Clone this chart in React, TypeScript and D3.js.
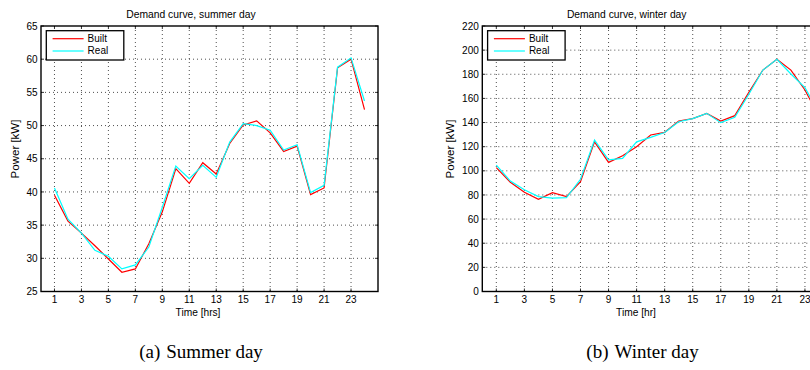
import * as d3 from 'd3';

// hours of the day (x categories)
const hours = [1, 2, 3, 4, 5, 6, 7, 8, 9, 10, 11, 12, 13, 14, 15, 16, 17, 18, 19, 20, 21, 22, 23, 24];
const xTicks = [1, 3, 5, 7, 9, 11, 13, 15, 17, 19, 21, 23];

// summer day, kW
const summerBuilt = [39.5, 35.6, 33.8, 31.9, 29.9, 27.9, 28.4, 32.2, 37.0, 43.5, 41.3, 44.4, 42.7, 47.3, 50.1, 50.7, 48.9, 46.1, 46.9, 39.6, 40.6, 58.7, 60.0, 52.4];
const summerReal = [40.6, 35.9, 33.8, 31.2, 30.3, 28.4, 29.0, 31.7, 37.7, 43.9, 42.0, 44.0, 42.2, 47.5, 50.3, 50.0, 49.3, 46.3, 47.1, 39.9, 41.0, 58.8, 60.2, 53.7];
const summerYTicks = [25, 30, 35, 40, 45, 50, 55, 60, 65];

// winter day, kW
const winterBuilt = [102.6, 90.5, 82.2, 76.4, 81.9, 78.6, 91.0, 124.0, 107.0, 112.5, 120.0, 129.7, 131.9, 141.3, 143.2, 147.6, 141.3, 145.7, 165.0, 183.5, 192.4, 183.5, 167.0, 145.0];
const winterReal = [104.8, 91.5, 84.3, 78.6, 77.3, 77.8, 93.0, 125.5, 109.0, 110.3, 124.0, 127.7, 131.7, 140.7, 143.2, 147.6, 139.9, 144.3, 163.4, 183.5, 192.4, 180.2, 169.0, 148.0];
const winterYTicks = [0, 20, 40, 60, 80, 100, 120, 140, 160, 180, 200, 220];

const sans = '"Liberation Sans", Arial, Helvetica, sans-serif';
const serif = '"Liberation Serif", "Times New Roman", serif';

type PanelProps = {
  built: number[];
  real: number[];
  yTicks: number[];
  left: number;
  right: number;
  title: string;
  titleX: number;
  xLabel: string;
  xLabelX: number;
  yLabelX: number;
};

const top = 26;
const bottom = 291.5;

function Panel(p: PanelProps) {
  const x = d3.scaleLinear().domain([0, 25]).range([p.left, p.right]);
  const y = d3.scaleLinear().domain(d3.extent(p.yTicks) as [number, number]).range([bottom, top]);
  const line = d3.line<number>().x((_, i) => x(hours[i])).y((d) => y(d));
  const tick = 3;
  const clipId = `clip-${p.left}`;

  return (
    <g>
      <defs>
        <clipPath id={clipId}>
          <rect x={p.left} y={top} width={p.right - p.left} height={bottom - top} />
        </clipPath>
      </defs>
      <rect x={p.left} y={top} width={p.right - p.left} height={bottom - top} fill="#fff" />

      {/* dotted grid */}
      {xTicks.map((t) => (
        <line key={`gx${t}`} x1={x(t)} x2={x(t)} y1={top} y2={bottom} stroke="#222" strokeWidth={0.8} strokeDasharray="1,3" />
      ))}
      {p.yTicks.slice(1, -1).map((t) => (
        <line key={`gy${t}`} x1={p.left} x2={p.right} y1={y(t)} y2={y(t)} stroke="#222" strokeWidth={0.8} strokeDasharray="1,3" />
      ))}

      {/* inward ticks */}
      {xTicks.map((t) => (
        <g key={`tx${t}`} stroke="#000" strokeWidth={0.8}>
          <line x1={x(t)} x2={x(t)} y1={bottom} y2={bottom - tick} />
          <line x1={x(t)} x2={x(t)} y1={top} y2={top + tick} />
        </g>
      ))}
      {p.yTicks.map((t) => (
        <g key={`ty${t}`} stroke="#000" strokeWidth={0.8}>
          <line x1={p.left} x2={p.left + tick} y1={y(t)} y2={y(t)} />
          <line x1={p.right} x2={p.right - tick} y1={y(t)} y2={y(t)} />
        </g>
      ))}

      <g clipPath={`url(#${clipId})`}>
        <path d={line(p.built) ?? ''} fill="none" stroke="#ff0000" strokeWidth={1.2} />
        <path d={line(p.real) ?? ''} fill="none" stroke="#00ffff" strokeWidth={1.2} />
      </g>

      <rect x={p.left} y={top} width={p.right - p.left} height={bottom - top} fill="none" stroke="#000" strokeWidth={1.4} />

      {/* tick labels */}
      {xTicks.map((t) => (
        <text key={`lx${t}`} x={x(t)} y={303} textAnchor="middle" fontSize={10} fontFamily={sans}>
          {t}
        </text>
      ))}
      {p.yTicks.map((t) => (
        <text key={`ly${t}`} x={p.left - 3.5} y={y(t) + 3.6} textAnchor="end" fontSize={10} fontFamily={sans}>
          {t}
        </text>
      ))}

      <text x={p.titleX} y={17.7} textAnchor="middle" fontSize={10.3} fontFamily={sans}>
        {p.title}
      </text>
      <text x={p.xLabelX} y={316} textAnchor="middle" fontSize={10.2} fontFamily={sans}>
        {p.xLabel}
      </text>
      <text
        transform={`translate(${p.yLabelX},149) rotate(-90)`}
        textAnchor="middle"
        fontSize={11.5}
        fontFamily={sans}
      >
        Power [kW]
      </text>

      {/* legend */}
      <g transform={`translate(${p.left + 5.3},30.7)`}>
        <rect x={0} y={0} width={77.5} height={29.3} fill="#fff" stroke="#000" strokeWidth={1.3} />
        <line x1={6.3} x2={37.3} y1={8} y2={8} stroke="#ff0000" strokeWidth={1.2} />
        <line x1={6.3} x2={37.3} y1={20.3} y2={20.3} stroke="#00ffff" strokeWidth={1.2} />
        <text x={41.3} y={11.7} fontSize={10} fontFamily={sans}>Built</text>
        <text x={41.3} y={23.8} fontSize={10} fontFamily={sans}>Real</text>
      </g>
    </g>
  );
}

export default function App() {
  return (
    <svg width={810} height={370} style={{ position: 'absolute', left: 0, top: 0, background: '#fff' }}>
      <rect width={810} height={370} fill="#fff" />
      <Panel
        built={summerBuilt}
        real={summerReal}
        yTicks={summerYTicks}
        left={41}
        right={378}
        title="Demand curve, summer day"
        titleX={191}
        xLabel="Time [hrs]"
        xLabelX={198}
        yLabelX={19}
      />
      <Panel
        built={winterBuilt}
        real={winterReal}
        yTicks={winterYTicks}
        left={482.3}
        right={833}
        title="Demand curve, winter day"
        titleX={626.7}
        xLabel="Time [hr]"
        xLabelX={636}
        yLabelX={454}
      />
      <text x={201} y={358} textAnchor="middle" fontSize={19} fontFamily={serif}>
        (a)<tspan dx={6}>Summer day</tspan>
      </text>
      <text x={642.5} y={358} textAnchor="middle" fontSize={19} fontFamily={serif}>
        (b)<tspan dx={6}>Winter day</tspan>
      </text>
    </svg>
  );
}
